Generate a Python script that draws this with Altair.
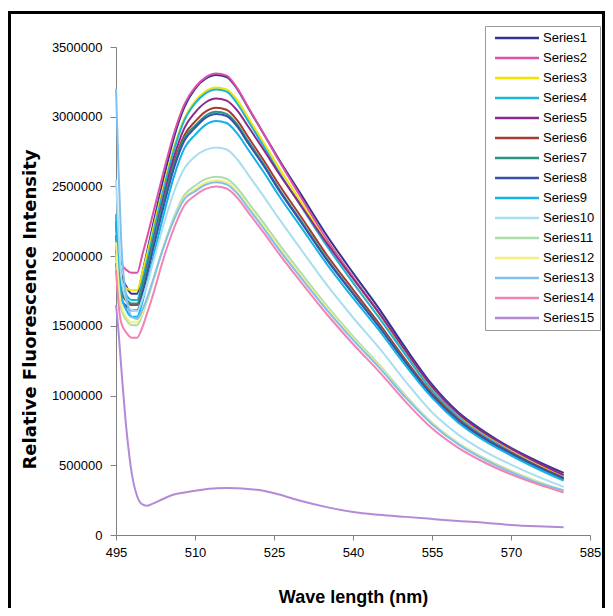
import altair as alt
import pandas as pd

# wavelength grid (nm)
wavelength = [495, 495.5, 496, 497, 498, 499, 500, 501, 502, 504, 506, 508, 510, 512, 514, 516,
              518, 520, 523, 526, 530, 535, 540, 545, 550, 555, 560, 565, 570, 575, 580]

# intensities in thousands
s1 = [2250, 2000, 1870, 1780, 1730, 1730, 1880, 2050, 2220, 2550, 2850, 3070, 3200, 3272, 3300, 3285, 3200, 3070, 2880, 2690, 2450, 2150, 1880, 1620, 1340, 1080, 880, 740, 625, 530, 445]
s2 = [2150, 2020, 1950, 1900, 1880, 1880, 2010, 2150, 2300, 2600, 2880, 3090, 3210, 3282, 3310, 3295, 3205, 3075, 2880, 2680, 2430, 2120, 1850, 1590, 1310, 1055, 860, 720, 610, 515, 430]
s3 = [2000, 1880, 1810, 1770, 1755, 1755, 1880, 2030, 2190, 2500, 2780, 2990, 3110, 3182, 3210, 3195, 3120, 3000, 2815, 2630, 2395, 2100, 1840, 1585, 1315, 1060, 865, 725, 615, 515, 420]
s4 = [2300, 1950, 1800, 1720, 1685, 1685, 1820, 1980, 2150, 2470, 2760, 2975, 3095, 3167, 3195, 3180, 3095, 2975, 2790, 2600, 2365, 2075, 1810, 1555, 1290, 1035, 845, 705, 595, 495, 400]
s5 = [2050, 1850, 1740, 1680, 1650, 1650, 1780, 1940, 2100, 2420, 2710, 2920, 3030, 3102, 3130, 3115, 3045, 2935, 2765, 2590, 2370, 2095, 1840, 1590, 1320, 1065, 870, 730, 620, 520, 430]
s6 = [2100, 1880, 1750, 1680, 1650, 1650, 1770, 1920, 2080, 2390, 2670, 2870, 2965, 3037, 3065, 3050, 2975, 2860, 2690, 2510, 2290, 2010, 1760, 1515, 1255, 1015, 830, 695, 590, 495, 410]
s7 = [2150, 1900, 1760, 1690, 1660, 1660, 1780, 1930, 2085, 2385, 2655, 2850, 2935, 3007, 3035, 3020, 2945, 2830, 2660, 2480, 2260, 1985, 1735, 1495, 1240, 1000, 820, 685, 580, 485, 400]
s8 = [1950, 1780, 1690, 1640, 1610, 1610, 1730, 1880, 2040, 2350, 2630, 2830, 2920, 2992, 3020, 3005, 2930, 2815, 2650, 2470, 2250, 1975, 1730, 1490, 1235, 1000, 820, 690, 585, 490, 405]
s9 = [2250, 1900, 1720, 1610, 1565, 1565, 1670, 1820, 1980, 2290, 2570, 2775, 2870, 2942, 2970, 2955, 2880, 2770, 2605, 2430, 2215, 1945, 1700, 1465, 1215, 985, 805, 675, 570, 475, 390]
s10 = [2550, 2150, 1850, 1680, 1610, 1605, 1690, 1810, 1950, 2220, 2460, 2630, 2715, 2762, 2780, 2765, 2695, 2590, 2430, 2265, 2055, 1795, 1560, 1340, 1100, 880, 720, 600, 505, 420, 345]
s11 = [2000, 1750, 1620, 1540, 1505, 1505, 1580, 1690, 1815, 2065, 2280, 2440, 2505, 2552, 2570, 2555, 2490, 2390, 2240, 2085, 1885, 1645, 1425, 1220, 1000, 805, 660, 550, 460, 385, 320]
s12 = [2100, 1800, 1650, 1560, 1525, 1525, 1595, 1700, 1820, 2060, 2265, 2420, 2480, 2527, 2545, 2530, 2465, 2365, 2215, 2060, 1865, 1630, 1410, 1210, 990, 800, 655, 545, 455, 380, 320]
s13 = [3200, 2600, 2100, 1700, 1565, 1550, 1615, 1710, 1825, 2060, 2260, 2410, 2465, 2512, 2530, 2515, 2450, 2350, 2200, 2045, 1850, 1615, 1400, 1200, 985, 795, 650, 540, 450, 375, 320]
s14 = [1900, 1650, 1520, 1450, 1415, 1415, 1490, 1600, 1720, 1980, 2200, 2365, 2435, 2482, 2500, 2485, 2420, 2320, 2170, 2015, 1820, 1585, 1370, 1170, 955, 765, 625, 520, 435, 365, 305]
s15 = [1650, 1450, 1200, 750, 440, 280, 220, 210, 225, 260, 290, 305, 318, 328, 335, 337, 335, 330, 318, 290, 245, 200, 165, 145, 130, 115, 100, 88, 72, 62, 55]

series_names = [f"Series{i}" for i in range(1, 16)]
series_values = [s1, s2, s3, s4, s5, s6, s7, s8, s9, s10, s11, s12, s13, s14, s15]
series_colors = ["#333391", "#dc50aa", "#f0e400", "#1fb4d2", "#8a2a8e", "#a83a2e", "#2a9484",
                 "#3552a8", "#14b2e6", "#a8def0", "#acdcac", "#f2f080", "#80bff0", "#f283b4", "#b48ad8"]

x_ticks = [495, 510, 525, 540, 555, 570, 585]
y_ticks = [0, 500000, 1000000, 1500000, 2000000, 2500000, 3000000, 3500000]

rows = []
for name, vals in zip(series_names, series_values):
    for w, v in zip(wavelength, vals):
        rows.append({"wavelength": w, "intensity": v * 1000, "series": name})
df = pd.DataFrame(rows)

lines = alt.Chart(df).mark_line(strokeWidth=2, interpolate="monotone").encode(
    x=alt.X("wavelength:Q",
            scale=alt.Scale(domain=[495, 585], nice=False, zero=False),
            axis=alt.Axis(values=x_ticks, title="Wave length (nm)", grid=False,
                          labelFont="Liberation Sans", labelFontSize=13, labelColor="black",
                          titleFont="Liberation Sans", titleFontSize=18, titleFontWeight="bold",
                          titleColor="black", titlePadding=29, tickSize=5, labelPadding=6,
                          domainColor="#808080", tickColor="#808080", labelFlush=False)),
    y=alt.Y("intensity:Q",
            scale=alt.Scale(domain=[0, 3500000], nice=False),
            axis=alt.Axis(values=y_ticks, format="d", title="Relative Fluorescence Intensity",
                          grid=False, labelFont="Liberation Sans", labelFontSize=13,
                          labelColor="black", titleFont="DejaVu Sans", titleFontSize=18,
                          titleFontWeight="bold", titleColor="black", titleX=-86, titleY=262,
                          titleBaseline="middle", titleAlign="center", titleAngle=270,
                          tickSize=6, labelPadding=8, domainColor="#808080", tickColor="#808080")),
    color=alt.Color("series:N", title=None,
                    scale=alt.Scale(domain=series_names, range=series_colors),
                    legend=alt.Legend(orient="none", legendX=369, legendY=-21, padding=5,
                                      strokeColor="#999999", fillColor="white",
                                      symbolType="M-4,0H4", symbolSize=121, symbolStrokeWidth=2.5,
                                      symbolOffset=20, labelOffset=19, rowPadding=6,
                                      labelFont="Liberation Sans", labelFontSize=13,
                                      labelColor="black", labelLimit=200)),
)

frame = alt.Chart(pd.DataFrame({"a": [0]})).mark_rect(
    filled=False, stroke="black", strokeWidth=3
).encode(x=alt.value(-106.5), x2=alt.value(487.5), y=alt.value(-34.5), y2=alt.value(600))

chart = alt.layer(frame, lines).properties(
    width=474, height=488,
    autosize=alt.AutoSizeParams(type="none"),
    padding={"left": 108, "top": 39, "right": 15, "bottom": 73},
).configure_view(stroke="transparent")

chart.save("out.html", embed_options={"renderer": "svg", "actions": False})
